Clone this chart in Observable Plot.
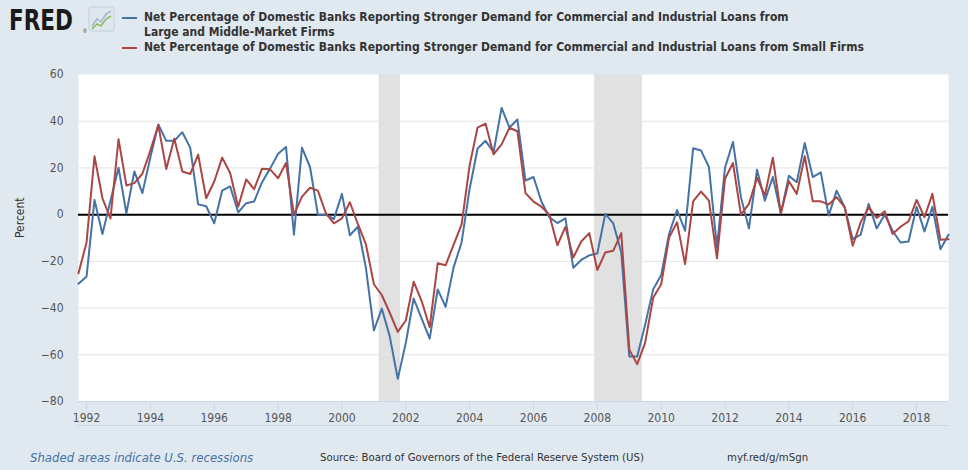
<!DOCTYPE html>
<html>
<head>
<meta charset="utf-8">
<script src="https://cdn.jsdelivr.net/npm/d3@7"></script>
<script src="https://cdn.jsdelivr.net/npm/@observablehq/plot@0.6"></script>
<style>
  html, body { margin: 0; padding: 0; }
  body { width: 968px; height: 470px; overflow: hidden; position: relative; background: #e1e9f0;
         font-family: "Liberation Sans Narrow", "DejaVu Sans Condensed", "Arial Narrow", sans-serif; }
  #header { position: absolute; left: 0; top: 0; width: 968px; height: 62px; }
  .leg { position: absolute; left: 144px; font-weight: bold; font-size: 12px; line-height: 15px; color: #333; white-space: nowrap; }
  .sw { position: absolute; left: 122px; width: 15px; height: 2px; }
  #chart { position: absolute; left: 0; top: 62px; }
  #sep { position: absolute; left: 77px; top: 425px; width: 871px; height: 1px; background: #c9d5e3; }
  .foot { position: absolute; top: 450px; font-size: 13px; line-height: 16px; white-space: nowrap; color: #333; }
</style>
</head>
<body>
<div id="header">
  <svg style="position:absolute;left:6px;top:0px" width="114" height="40">
    <text x="3" y="30" font-family="Liberation Sans Narrow, DejaVu Sans Condensed, sans-serif" font-weight="bold" font-size="28" fill="#1a1a1a" textLength="64" lengthAdjust="spacingAndGlyphs">FRED</text>
    <text x="77" y="33" font-family="Liberation Sans, sans-serif" font-size="5" fill="#1a1a1a">®</text>
    <rect x="83" y="7" width="25" height="24" rx="2" fill="#dfe6ee" stroke="#c4cfdb"/>
    <polyline points="86,26 91,19 95,22 100,14 105,11" fill="none" stroke="#9fb5cf" stroke-width="1.5"/>
    <polyline points="86,29 91,24 95,26 100,19 105,16" fill="none" stroke="#8dbb5a" stroke-width="1.5"/>
  </svg>
  <div class="sw" style="top:17px;background:#4572a7"></div>
  <div class="leg" style="top:10px" id="leg1a"></div>
  <div class="leg" style="top:25px" id="leg1b"></div>
  <div class="sw" style="top:47px;background:#aa4643"></div>
  <div class="leg" style="top:40px" id="leg2"></div>
</div>
<div id="chart"></div>
<div id="sep"></div>
<div class="foot" style="left:30px;font-style:italic;color:#4572a7" id="f1"></div>
<div class="foot" style="left:320px;font-size:11.3px" id="f2"></div>
<div class="foot" style="left:727px;font-size:11.3px" id="f3"></div>
<script>
// ---- Data (quarterly, first observation 1991 Q4) ----
const firstQuarter = "1991-10-01";
const largeMiddleFirms = [
  -29.6, -26.5, 6.3, -8.3, 6.0, 20.1, 0.6, 18.5, 9.2, 24.7,
  38.6, 31.6, 31.6, 35.3, 28.7, 4.4, 3.6, -3.7, 10.3, 12.1,
  1.0, 4.9, 5.6, 13.9, 19.7, 26.1, 29.0, -8.6, 28.7, 20.4,
  0.0, 0.0, -1.9, 8.9, -8.8, -5.2, -22.7, -49.6, -40.2, -52.1,
  -70.3, -54.9, -35.9, -44.5, -53.1, -32.0, -39.5, -22.7, -11.9, 11.0,
  28.3, 31.6, 26.8, 45.7, 37.3, 40.7, 14.6, 16.1, 5.6, -1.1,
  -3.6, -1.6, -22.7, -19.4, -17.4, -16.6, 0.3, -3.7, -16.2, -60.7,
  -60.7, -47.1, -32.0, -25.8, -8.3, 2.0, -6.9, 28.4, 27.5, 20.4,
  -14.1, 20.1, 31.1, 7.5, -5.9, 19.2, 6.0, 16.1, 0.6, 16.6,
  13.9, 30.7, 16.1, 18.1, -0.4, 10.3, 3.2, -10.5, -8.6, 4.6,
  -5.9, 0.0, -6.9, -11.9, -11.5, 3.4, -7.2, 3.4, -14.8, -8.6
];
const smallFirms = [
  -25.1, -11.9, 25.0, 7.0, -1.6, 32.3, 12.5, 13.5, 17.5, 27.5,
  38.3, 19.5, 32.6, 18.5, 17.4, 25.7, 7.0, 14.2, 24.4, 17.8,
  3.4, 15.1, 10.9, 19.7, 19.4, 15.6, 22.1, 0.0, 7.7, 11.5,
  10.3, 0.6, -3.7, -1.6, 5.3, -4.0, -12.6, -29.8, -34.4, -42.0,
  -50.2, -45.3, -28.7, -37.0, -48.2, -20.8, -21.7, -12.9, -4.3, 21.1,
  37.3, 39.0, 25.8, 30.1, 37.2, 35.7, 9.2, 5.6, 3.4, 0.0,
  -13.1, -5.2, -18.4, -11.5, -7.9, -23.7, -16.2, -15.5, -7.9, -57.8,
  -64.0, -54.9, -35.6, -29.8, -9.8, -3.3, -21.2, 5.7, 9.9, 6.0,
  -18.7, 15.4, 22.1, 0.0, 4.6, 15.8, 8.2, 24.4, 0.6, 14.3,
  8.9, 25.0, 5.7, 5.7, 4.3, 7.5, 3.2, -13.3, -3.3, 3.2,
  -1.4, 1.4, -8.3, -5.2, -2.9, 6.3, -1.1, 8.9, -10.8, -10.5
];
const recessionStarts = ["2001-03-01", "2007-12-01"];
const recessionEnds = ["2001-11-01", "2009-06-01"];
const xDomain = ["1991-10-01", "2019-01-01"];
const xTickYears = [1992, 1994, 1996, 1998, 2000, 2002, 2004, 2006, 2008, 2010, 2012, 2014, 2016, 2018];
const yTicks = [-80, -60, -40, -20, 0, 20, 40, 60];
const yDomain = [-80, 60];
const seriesNames = [
  "Net Percentage of Domestic Banks Reporting Stronger Demand for Commercial and Industrial Loans from Large and Middle-Market Firms",
  "Net Percentage of Domestic Banks Reporting Stronger Demand for Commercial and Industrial Loans from Small Firms"
];
const yLabel = "Percent";
const footer = ["Shaded areas indicate U.S. recessions", "Source: Board of Governors of the Federal Reserve System (US)", "myf.red/g/mSgn"];

// ---- Text ----
const splitAt = seriesNames[0].indexOf("Large");
document.getElementById("leg1a").textContent = seriesNames[0].slice(0, splitAt).trim();
document.getElementById("leg1b").textContent = seriesNames[0].slice(splitAt);
document.getElementById("leg2").textContent = seriesNames[1];
document.getElementById("f1").textContent = footer[0];
document.getElementById("f2").textContent = footer[1];
document.getElementById("f3").textContent = footer[2];

// ---- Build tables ----
const t0 = new Date(firstQuarter + "T00:00:00Z");
const rows = largeMiddleFirms.map((v, i) => ({
  date: d3.utcMonth.offset(t0, 3 * i),
  large: v,
  small: smallFirms[i]
}));
const recessions = recessionStarts.map((s, i) => ({
  start: new Date(s + "T00:00:00Z"),
  end: new Date(recessionEnds[i] + "T00:00:00Z")
}));
const xTicks = xTickYears.map(y => new Date(Date.UTC(y, 0, 1)));
const font = '"Liberation Sans Narrow", "DejaVu Sans Condensed", "Arial Narrow", sans-serif';

const chart = Plot.plot({
  width: 968,
  height: 380,
  marginTop: 12,
  marginBottom: 41,
  marginLeft: 78,
  marginRight: 20,
  style: { background: "#e1e9f0", fontFamily: font, fontSize: "12px", overflow: "visible" },
  x: { type: "utc", domain: xDomain.map(d => new Date(d + "T00:00:00Z")) },
  y: { domain: yDomain },
  marks: [
    Plot.frame({ fill: "white", stroke: null }),
    Plot.rect(recessions, { x1: "start", x2: "end", fill: "#e1e1e1" }),
    Plot.gridY(yTicks.filter(t => t !== 0 && t !== yDomain[0] && t !== yDomain[1]), { stroke: "#e3e3e3", strokeOpacity: 1, strokeWidth: 1 }),
    Plot.ruleY([yDomain[0]], { stroke: "#ccd6eb", strokeWidth: 1 }),
    Plot.ruleY([0], { stroke: "black", strokeWidth: 2 }),
    Plot.lineY(rows, { x: "date", y: "large", stroke: "#4572a7", strokeWidth: 2 }),
    Plot.lineY(rows, { x: "date", y: "small", stroke: "#aa4643", strokeWidth: 2 }),
    Plot.axisX({ ticks: xTicks, tickFormat: d3.utcFormat("%Y"), tickSize: 9, tickPadding: 3, stroke: "#ccd6eb", color: "#555", fontSize: 12, label: null }),
    Plot.axisY({ ticks: yTicks, tickSize: 0, tickPadding: 15, color: "#555", fontSize: 12, label: null }),
    Plot.text([yLabel], { frameAnchor: "left", dx: -58, rotate: -90, fill: "#333", fontSize: 12 })
  ]
});
document.getElementById("chart").appendChild(chart);
</script>
</body>
</html>
